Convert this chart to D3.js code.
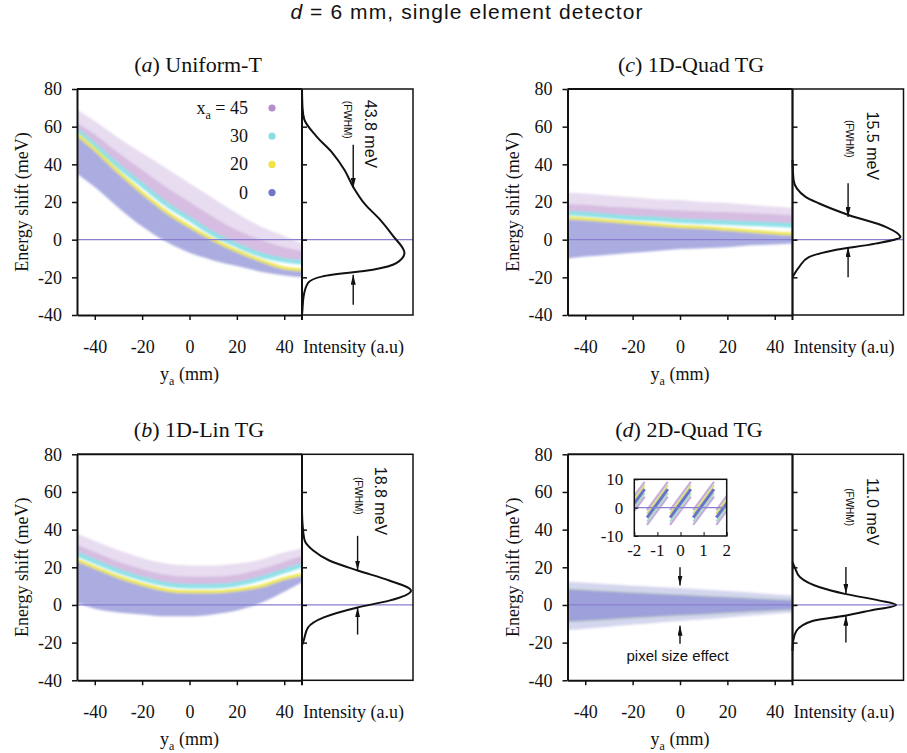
<!DOCTYPE html>
<html>
<head>
<meta charset="utf-8">
<script src="https://cdn.jsdelivr.net/npm/d3@7"></script>
<style>
    body { margin: 0; background: #fff; }
    .serif { font-family: "Liberation Serif", "Times New Roman", serif; fill: #111; }
    .sans { font-family: "Liberation Sans", Arial, Helvetica, sans-serif; fill: #111; }
    .axis path, .axis line { stroke: #111; }
</style>
</head>
<body>
<svg id="fig" width="907" height="753"></svg>
<script>
"use strict"

const yaGrid = [-47.5, -40, -30, -20, -10, 0, 10, 20, 30, 40, 47.5];
const xTicks = [-40, -20, 0, 20, 40];
const yTicks = [-40, -20, 0, 20, 40, 60, 80];
const histTicks = [60, 40, 20, 0, -20];

// legend: x_a values (mm)
const legendXa = [45, 30, 20, 0];

// (a) Uniform-T, energy shift (meV)
const aPurpleTop = [69, 63, 54, 46, 38, 30, 22, 14, 7, 2, -2];
const aPurpleMid = [62, 56, 46, 37, 28, 20, 12, 5, 0, -4, -6];
const aCyan = [58, 50, 39, 29, 19, 11, 3, -3, -8, -11, -12];
const aYellow = [56, 48, 36, 25, 15, 7, 0, -6, -11, -15, -16];
const aBlueBottom = [35, 28, 17, 7, -1, -7, -11, -14, -17, -19, -20];

// (b) 1D-Lin TG
const bPurpleTop = [38, 34, 29, 25, 22, 21, 21, 22, 24, 28, 30];
const bPurpleMid = [32, 28, 23, 19, 16, 15, 15, 16, 19, 23, 26];
const bCyan = [27, 23, 18, 14, 11, 10, 10, 11, 14, 18, 21];
const bYellow = [24, 20, 15, 11, 8, 7, 7, 8, 10, 14, 16];
const bBlueBottom = [1, -2, -4, -5, -6, -6, -5, -3, 1, 7, 12];

// (c) 1D-Quad TG
const cPurpleTop = [25, 24.5, 23.5, 22.5, 21.5, 21, 20, 19.5, 18.5, 17.5, 17];
const cPurpleMid = [19, 18.5, 17.5, 17, 16, 15.5, 15, 14.5, 14, 13.5, 13];
const cCyan = [14, 13.5, 12.5, 11.5, 11, 10, 9.5, 9, 8.5, 8, 7.5];
const cYellow = [11.5, 11, 10, 9, 8, 7, 6.5, 5.5, 4.5, 3.5, 3];
const cBlueBottom = [-10, -9, -8, -7, -6, -5, -4.5, -4, -3, -2.5, -2];

// (d) 2D-Quad TG, all x_a overlap
const dOuterTop = [12.5, 11.8, 11, 10.2, 9.6, 9, 8.2, 7.4, 6.6, 5.6, 5];
const dOuterBottom = [-13.3, -12.6, -11.5, -10.4, -9.4, -8.5, -7.6, -6.6, -5.6, -4.6, -4];
const dCoreTop = [8.5, 8, 7.3, 6.6, 6, 5.4, 4.8, 4.2, 3.6, 3, 2.6];
const dCoreBottom = [-9, -8.5, -7.7, -6.9, -6.2, -5.6, -5, -4.3, -3.6, -3, -2.6];

// inset of (d): pixel stripes, y_a (mm) vs energy (meV)
const insetStart = [-2.45, -1.45, -0.45, 0.55, 1.55];
const insetEnd = [-1.55, -0.55, 0.45, 1.45, 2.45];
const insetLow = -3.5;
const insetHigh = 6.5;
const insetTicksX = [-2, -1, 0, 1, 2];
const insetTicksY = [-10, 0, 10];

// intensity profiles (normalised), energy (meV)
const aHistE = [80, 70, 64, 55, 46, 37, 28, 19, 11, 2, -7, -12.5, -16, -19.5, -23, -30, -38, -40];
const aHistI = [0, 0.005, 0.02, 0.13, 0.28, 0.39, 0.47, 0.575, 0.71, 0.835, 0.94, 0.865, 0.65, 0.19, 0.055, 0.015, 0.003, 0];
const bHistE = [49.5, 43, 34.3, 29, 23.6, 18.3, 13, 7.6, 2.3, -1.3, -6.6, -12, -19, -21.5];
const bHistI = [0, 0.005, 0.024, 0.1, 0.25, 0.51, 0.8, 1, 0.8, 0.51, 0.2, 0.055, 0.015, 0];
const cHistE = [42.3, 31.6, 22.7, 19.2, 13, 6.7, 1.4, -2.1, -5.7, -9.3, -14.6, -20];
const cHistI = [0, 0.01, 0.12, 0.245, 0.52, 0.86, 0.99, 0.76, 0.37, 0.15, 0.06, 0];
const dHistE = [22.7, 20.1, 14.7, 9.4, 5.9, 2.3, 0, -3, -5.7, -8.4, -13.7, -19, -24.4];
const dHistI = [0, 0.02, 0.07, 0.25, 0.48, 0.8, 0.95, 0.71, 0.48, 0.19, 0.037, 0.006, 0];

// FWHM values (meV) and the arrows marking them: [intensity, from E, to E]
const fwhmValues = ["43.8", "18.8", "15.5", "11.0"];
const fwhmArrows = [
    [[0.47, 50.4, 27.4], [0.47, -34.5, -18.6]],
    [[0.51, 36.7, 18.3], [0.51, -15.7, -1.3]],
    [[0.51, 29.9, 12], [0.51, -20, -3.9]],
    [[0.49, 20.1, 5.9], [0.49, -19.9, -5.7]]
];

const svg = d3.select("#fig");
const mainW = 225, histW = 111, plotH = 226, histPeak = 109;
const serifFont = '"Liberation Serif", "Times New Roman", serif';
const col = {purpleLight: "#e2d3ec", purple: "#c6a4d6", cyan: "#8ee2e8", yellow: "#efe84c",
             blue: "#9496d8", zero: "#8a7fd0"};
const legendColors = ["#b58fc9", "#8cdde2", "#f1e245", "#7275c7"];

const defs = svg.append("defs");
defs.append("filter").attr("id", "soft")
    .attr("x", "-5%").attr("y", "-5%").attr("width", "110%").attr("height", "110%")
    .append("feGaussianBlur").attr("stdDeviation", 1.2);
defs.append("marker")
    .attr("id", "arrow")
    .attr("viewBox", "0 0 10 5")
    .attr("refX", 10).attr("refY", 2.5)
    .attr("markerWidth", 10).attr("markerHeight", 5)
    .attr("markerUnits", "userSpaceOnUse")
    .attr("orient", "auto")
    .append("path").attr("d", "M0,0L10,2.5L0,5Z").attr("fill", "#111");

// main title
let title = svg.append("text").attr("class", "sans")
    .attr("x", 467).attr("y", 19)
    .attr("text-anchor", "middle")
    .style("font-size", "21px").style("letter-spacing", "1.1px");
title.append("tspan").style("font-style", "italic").text("d");
title.append("tspan").text(" = 6 mm, single element detector");

const panels = [
    {letter: "a", name: "Uniform-T", left: 77, top: 89, titleX: 198, top3: [aPurpleTop, aPurpleMid, aCyan, aYellow, aBlueBottom],
     histE: aHistE, histI: aHistI, fwhm: 0, lab: [0.578, 74.3], small: [0.385, 73.7], legend: true},
    {letter: "b", name: "1D-Lin TG", left: 77, top: 454.3, titleX: 199, top3: [bPurpleTop, bPurpleMid, bCyan, bYellow, bBlueBottom],
     histE: bHistE, histI: bHistI, fwhm: 1, lab: [0.67, 73.4], small: [0.486, 68]},
    {letter: "c", name: "1D-Quad TG", left: 567.5, top: 89, titleX: 691, top3: [cPurpleTop, cPurpleMid, cCyan, cYellow, cBlueBottom],
     histE: cHistE, histI: cHistI, fwhm: 2, lab: [0.68, 68], small: [0.495, 63.6]},
    {letter: "d", name: "2D-Quad TG", left: 567.5, top: 454.3, titleX: 689, top3: null,
     histE: dHistE, histI: dHistI, fwhm: 3, lab: [0.68, 67.4], small: [0.495, 62], inset: true}
];

panels.forEach(drawPanel);

function serifAxis(a) {
    a.selectAll("text").style("font-family", serifFont).style("font-size", "18px").attr("fill", "#111");
}

function drawPanel(p) {
    const g = svg.append("g").attr("class", "panel-" + p.letter);
    const x = d3.scaleLinear().domain([-47.5, 47.5]).range([p.left, p.left + mainW]);
    const y = d3.scaleLinear().domain([-40, 80]).range([p.top + plotH, p.top]);
    const hx0 = p.left + mainW;
    const xh = d3.scaleLinear().domain([0, 1]).range([hx0, hx0 + histPeak]);

    // clip for the band area
    defs.append("clipPath").attr("id", "clip-" + p.letter)
        .append("rect").attr("x", p.left).attr("y", p.top).attr("width", mainW).attr("height", plotH);

    const bands = g.append("g").attr("clip-path", `url(#clip-${p.letter})`)
        .append("g").attr("filter", "url(#soft)");

    const area = (lo, hi) => d3.area()
        .x((d, i) => x(yaGrid[i]))
        .y0((d, i) => y(lo[i]))
        .y1((d, i) => y(hi[i]))
        .curve(d3.curveMonotoneX)(yaGrid);
    const line = arr => d3.line()
        .x((d, i) => x(yaGrid[i]))
        .y(d => y(d))
        .curve(d3.curveMonotoneX)(arr);

    if (p.top3) {
        const [pTop, pMid, cy, ye, bBot] = p.top3;
        bands.append("path").attr("d", area(cy, pTop)).attr("fill", col.purpleLight).attr("opacity", 0.8);
        bands.append("path").attr("d", area(cy, pMid)).attr("fill", col.purple).attr("opacity", 0.55);
        bands.append("path").attr("d", area(bBot, ye)).attr("fill", col.blue).attr("opacity", 0.78);
        bands.append("path").attr("d", line(cy)).attr("fill", "none").attr("stroke", col.cyan).attr("stroke-width", 4.5);
        bands.append("path").attr("d", line(ye)).attr("fill", "none").attr("stroke", col.yellow).attr("stroke-width", 3);
    } else {
        bands.append("path").attr("d", area(dOuterBottom, dOuterTop)).attr("fill", "#cdcfeb").attr("opacity", 0.85);
        bands.append("path").attr("d", area(dCoreBottom, dCoreTop)).attr("fill", "#8c8fd5").attr("opacity", 0.75);
        [dCoreTop, dCoreBottom].forEach(arr =>
            bands.append("path").attr("d", line(arr)).attr("fill", "none")
                .attr("stroke", "#b5d9a8").attr("stroke-width", 1).attr("opacity", 0.6));
    }

    // zero line across plot and histogram
    g.append("line")
        .attr("x1", p.left).attr("x2", hx0 + histW)
        .attr("y1", y(0)).attr("y2", y(0))
        .attr("stroke", col.zero).attr("stroke-width", 1.2);

    // axes
    g.append("g").attr("class", "axis")
        .attr("transform", `translate(${p.left},0)`)
        .call(d3.axisLeft(y).tickValues(yTicks).tickSize(5).tickSizeOuter(0).tickPadding(10).tickFormat(d => String(d)))
        .call(a => a.select(".domain").attr("stroke-width", 2))
        .call(a => a.selectAll(".tick line").attr("stroke-width", 1.5))
        .call(serifAxis);
    g.append("g").attr("class", "axis")
        .attr("transform", `translate(0,${p.top + plotH})`)
        .call(d3.axisBottom(x).tickValues(xTicks).tickSize(5).tickSizeOuter(0).tickPadding(20).tickFormat(d => String(d)))
        .call(a => a.select(".domain").attr("stroke-width", 2))
        .call(a => a.selectAll(".tick line").attr("stroke-width", 1.5))
        .call(serifAxis);
    g.append("line")
        .attr("x1", p.left).attr("x2", hx0)
        .attr("y1", p.top).attr("y2", p.top)
        .attr("stroke", "#111").attr("stroke-width", 2);

    // histogram box
    g.append("rect")
        .attr("x", hx0).attr("y", p.top).attr("width", histW).attr("height", plotH)
        .attr("fill", "none").attr("stroke", "#111").attr("stroke-width", 1.5);
    g.append("g").attr("class", "axis")
        .attr("transform", `translate(${hx0},0)`)
        .call(d3.axisRight(y).tickValues(histTicks).tickSize(5).tickFormat(""))
        .call(a => a.select(".domain").remove())
        .call(a => a.selectAll(".tick line").attr("stroke-width", 1.5));
    g.append("line")
        .attr("x1", hx0).attr("x2", hx0)
        .attr("y1", p.top).attr("y2", p.top + plotH + 5)
        .attr("stroke", "#111").attr("stroke-width", 2);

    // intensity profile
    g.append("path")
        .attr("d", d3.line()
            .x((d, i) => xh(p.histI[i]))
            .y(d => y(d))
            .curve(d3.curveMonotoneY)(p.histE))
        .attr("fill", "none").attr("stroke", "#111").attr("stroke-width", 2);

    fwhmArrows[p.fwhm].forEach(([iv, e0, e1]) => {
        g.append("line")
            .attr("x1", xh(iv)).attr("x2", xh(iv))
            .attr("y1", y(e0)).attr("y2", y(e1))
            .attr("stroke", "#111").attr("stroke-width", 1.4)
            .attr("marker-end", "url(#arrow)");
    });
    g.append("text").attr("class", "sans")
        .attr("transform", `translate(${xh(p.lab[0])},${y(p.lab[1])}) rotate(90)`)
        .style("font-size", "16px")
        .text(fwhmValues[p.fwhm] + " meV");
    g.append("text").attr("class", "sans")
        .attr("transform", `translate(${xh(p.small[0])},${y(p.small[1])}) rotate(90)`)
        .style("font-size", "10px")
        .text("(FWHM)");

    // labels
    let t = g.append("text").attr("class", "serif")
        .attr("x", p.titleX).attr("y", p.top - 17)
        .attr("text-anchor", "middle").style("font-size", "22px");
    t.append("tspan").text("(");
    t.append("tspan").style("font-style", "italic").text(p.letter);
    t.append("tspan").text(") " + p.name);

    g.append("text").attr("class", "serif")
        .attr("transform", `translate(${p.left - 49},${p.top + plotH / 2}) rotate(-90)`)
        .attr("text-anchor", "middle").style("font-size", "18px")
        .text("Energy shift (meV)");

    let xl = g.append("text").attr("class", "serif")
        .attr("x", x(0)).attr("y", p.top + plotH + 65)
        .attr("text-anchor", "middle").style("font-size", "18px");
    xl.append("tspan").text("y");
    xl.append("tspan").attr("dy", 5).style("font-size", "12px").text("a");
    xl.append("tspan").attr("dy", -5).text(" (mm)");

    g.append("text").attr("class", "serif")
        .attr("x", hx0 + 1).attr("y", p.top + plotH + 38)
        .style("font-size", "18px")
        .text("Intensity (a.u)");

    if (p.legend) drawLegend(g, y);
    if (p.inset) drawInset(g, x, y);
}

function drawLegend(g, y) {
    const rows = g.selectAll(".legend-row")
        .data(legendXa)
        .enter().append("g")
        .attr("class", "legend-row")
        .attr("transform", (d, i) => `translate(0,${108 + i * 28.2})`);
    rows.each(function(d, i) {
        const r = d3.select(this);
        const t = r.append("text").attr("class", "serif")
            .attr("x", 248).attr("y", 6)
            .attr("text-anchor", "end").style("font-size", "18px");
        if (i === 0) {
            t.append("tspan").text("x");
            t.append("tspan").attr("dy", 5).style("font-size", "12px").text("a");
            t.append("tspan").attr("dy", -5).text(" = " + d);
        } else {
            t.text(d);
        }
        r.append("circle").attr("cx", 272).attr("cy", 0).attr("r", 3.6).attr("fill", legendColors[i]);
    });
}

function drawInset(g, xMain, yMain) {
    const x0 = 634.3, x1 = 726.7, y0 = 479.3, y1 = 536;
    const xi = d3.scaleLinear().domain([-2, 2]).range([x0, x1]);
    const yi = d3.scaleLinear().domain([-10, 10]).range([y1, y0]);
    const ig = g.append("g").attr("class", "inset");
    ig.append("rect").attr("x", x0).attr("y", y0).attr("width", x1 - x0).attr("height", y1 - y0).attr("fill", "#fff");

    defs.append("clipPath").attr("id", "clip-inset")
        .append("rect").attr("x", x0).attr("y", y0).attr("width", x1 - x0).attr("height", y1 - y0);
    const sg = ig.append("g").attr("clip-path", "url(#clip-inset)");

    const layers = [
        {off: 2.6, c: "#c9a9da", w: 2.2},
        {off: -2.6, c: "#c9a9da", w: 2.2},
        {off: 1.4, c: "#d2e27e", w: 2},
        {off: -1.4, c: "#a9dcc8", w: 2},
        {off: 0, c: "#6d71c6", w: 3}
    ];
    insetStart.forEach((s, k) => {
        layers.forEach(L => {
            sg.append("line")
                .attr("x1", xi(s)).attr("x2", xi(insetEnd[k]))
                .attr("y1", yi(insetLow + L.off)).attr("y2", yi(insetHigh + L.off))
                .attr("stroke", L.c).attr("stroke-width", L.w);
        });
    });
    ig.append("line").attr("x1", x0).attr("x2", x1).attr("y1", yi(0)).attr("y2", yi(0))
        .attr("stroke", col.zero).attr("stroke-width", 1.2);
    ig.append("rect").attr("x", x0).attr("y", y0).attr("width", x1 - x0).attr("height", y1 - y0)
        .attr("fill", "none").attr("stroke", "#111").attr("stroke-width", 1.5);

    ig.append("g").attr("class", "axis")
        .attr("transform", `translate(0,${y1})`)
        .call(d3.axisTop(xi).tickValues(insetTicksX).tickSize(4).tickFormat(""))
        .call(a => a.select(".domain").remove());
    ig.append("g").attr("class", "axis")
        .attr("transform", `translate(${x0},0)`)
        .call(d3.axisRight(yi).tickValues(insetTicksY).tickSize(4).tickFormat(""))
        .call(a => a.select(".domain").remove());
    ig.selectAll(".ixlab").data(insetTicksX).enter().append("text")
        .attr("class", "serif").attr("x", d => xi(d)).attr("y", y1 + 20)
        .attr("text-anchor", "middle").style("font-size", "17px").text(d => String(d));
    ig.selectAll(".iylab").data(insetTicksY).enter().append("text")
        .attr("class", "serif").attr("x", x0 - 11).attr("y", d => yi(d) + 6)
        .attr("text-anchor", "end").style("font-size", "17px").text(d => String(d));

    // pixel size effect arrows
    [[20, 10.3], [-20.6, -11]].forEach(([e0, e1]) => {
        g.append("line")
            .attr("x1", xMain(0)).attr("x2", xMain(0))
            .attr("y1", yMain(e0)).attr("y2", yMain(e1))
            .attr("stroke", "#111").attr("stroke-width", 1.4)
            .attr("marker-end", "url(#arrow)");
    });
    g.append("text").attr("class", "sans")
        .attr("x", xMain(-1)).attr("y", yMain(-29.7))
        .attr("text-anchor", "middle").style("font-size", "15px")
        .text("pixel size effect");
}
</script>
</body>
</html>
